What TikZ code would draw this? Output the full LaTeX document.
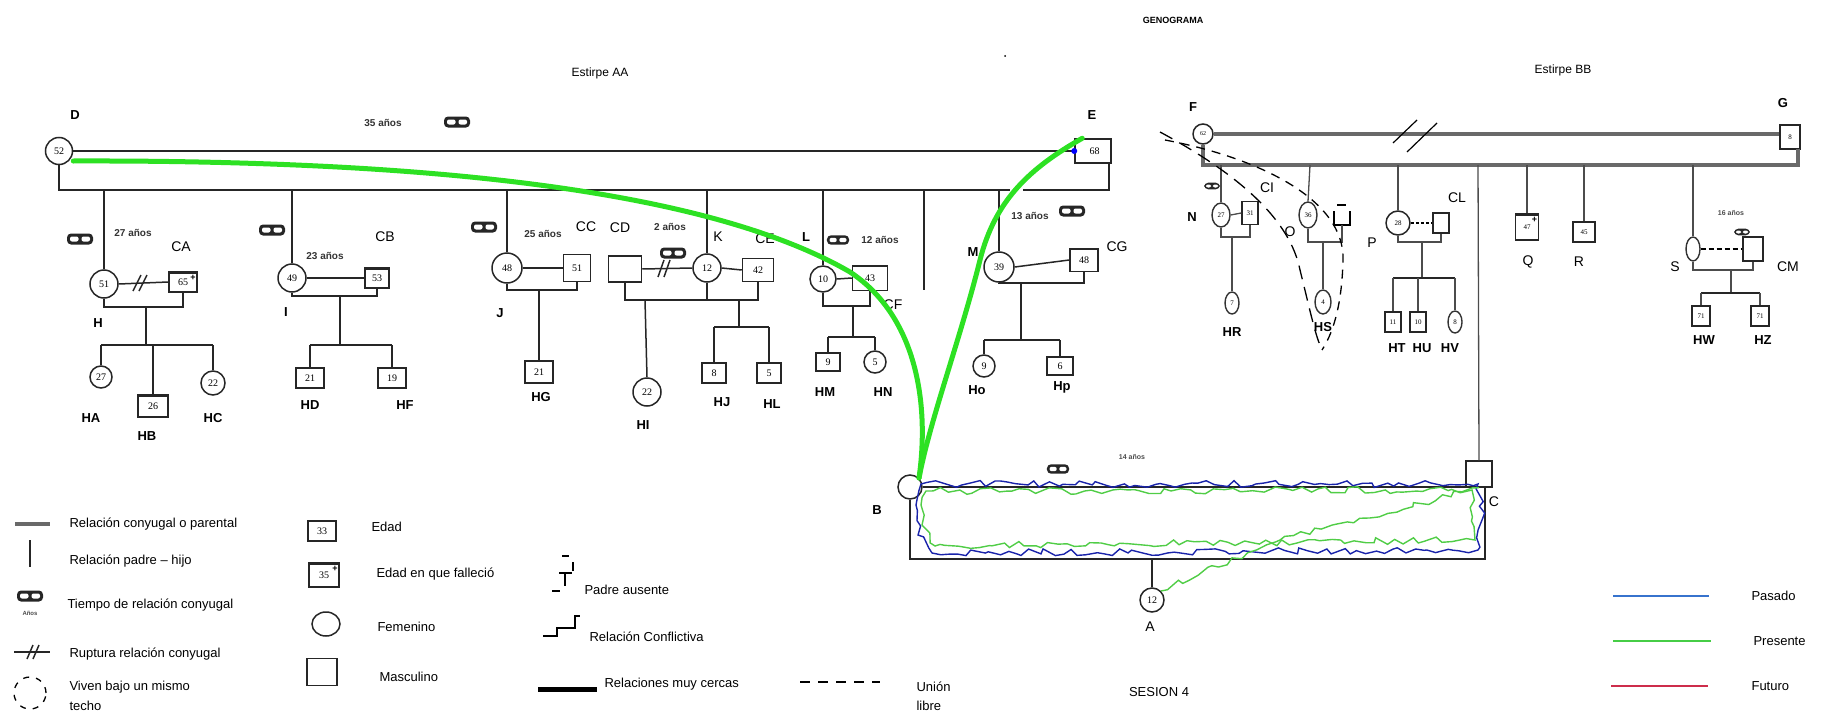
\documentclass[tikz,border=0pt]{standalone}
\usepackage{fontspec}
\setmainfont{Liberation Sans}
\newfontfamily\numserif{Liberation Serif}
\usetikzlibrary{shapes.geometric,decorations.pathmorphing,calc}
\definecolor{ggreen}{RGB}{45,225,35}
\definecolor{zblue}{RGB}{25,35,170}
\definecolor{zgreen}{RGB}{80,205,70}
\definecolor{lblue}{RGB}{55,115,205}
\definecolor{lgreen}{RGB}{70,205,70}
\definecolor{lred}{RGB}{205,45,75}
\definecolor{lgray}{RGB}{105,105,105}
\begin{document}
\begin{tikzpicture}[x=1pt,y=-1pt,
  ln/.style={line width=1.5pt, draw=black!85},
  thn/.style={line width=1.3pt, draw=black!70},
  thk/.style={line width=3.4pt, draw=lgray},
  fem/.style={circle, draw=black!85, line width=1.5pt, fill=white, minimum size=26pt, inner sep=0pt, font=\numserif\fontsize{10}{10}\selectfont},
  femo/.style={ellipse, draw=black!80, line width=1.4pt, fill=white, minimum width=16pt, minimum height=24pt, inner sep=0pt, font=\numserif\fontsize{7}{7}\selectfont},
  masc/.style={rectangle, draw=black!85, line width=1.5pt, fill=white, minimum width=28pt, minimum height=22pt, inner sep=0pt, font=\numserif\fontsize{10}{10}\selectfont},
  topbar/.style={masc, path picture={\draw[line width=3.5pt,black!85] (path picture bounding box.north west) -- (path picture bounding box.north east);}},
  dead/.style={masc, path picture={\draw[line width=3.5pt,black!85] (path picture bounding box.north west) -- (path picture bounding box.north east); \node[font=\bfseries\fontsize{9}{9}\selectfont, inner sep=0pt] at ($(path picture bounding box.north east)+(-4,6)$) {+};}},
  lbl/.style={font=\fontsize{14}{14}\selectfont},
  blbl/.style={font=\bfseries\fontsize{13}{13}\selectfont},
  yrs/.style={font=\bfseries\fontsize{10}{10}\selectfont, text=black!80},
  tyrs/.style={font=\bfseries\fontsize{7}{7}\selectfont, text=black!70},
  legt/.style={anchor=west, font=\fontsize{13}{13}\selectfont},
  zig/.style={line width=1.4pt, decorate, decoration={random steps, segment length=8pt, amplitude=3.5pt}},
  ringicon/.pic={
    \fill[black!85, rounded corners=4pt] (-13,-5.5) rectangle (13,5.5);
    \fill[white, rounded corners=2pt] (-10,-2.5) rectangle (-1.5,2.5);
    \fill[white, rounded corners=2pt] (1.5,-2.5) rectangle (10,2.5);
  }
]
\useasboundingbox (0,0) rectangle (1827,717);

% titles
\node[font=\bfseries\fontsize{9}{9}\selectfont] (title) at (1173,20) {GENOGRAMA};
\fill (1005,56) circle (1pt);
\node[font=\fontsize{12}{12}\selectfont] (eaa) at (600,73) {Estirpe AA};
\node[font=\fontsize{12}{12}\selectfont] (ebb) at (1563,70) {Estirpe BB};

% ---------- Estirpe AA ----------
\node[fem, minimum size=27pt] (D) at (59,151) {52};
\node[blbl] (lD) at (75,115) {D};
\node[masc, minimum width=36pt, minimum height=24pt] (E) at (1093,151) {\,\,68};
\node[blbl] (lE) at (1092,115) {E};
\draw[ln] (D.east) -- (E.west);
\draw[ln] (D.south) -- (59,190) -- (1010,190);
\draw[ln] (1023,190) -| ($(E.south east)+(-3,0)$);
\pic at (457,122) {ringicon};
\node[yrs] (y35) at (383,123) {35 años};

% H
\node[fem, minimum size=28pt] (H) at (104,284) {51};
\node[dead, minimum width=28pt, minimum height=20pt] (CA) at (183,282) {65};
\draw[ln] (104,190) -- (H.north);
\draw[ln] (H.east) -- (CA.west);
\draw[ln] (133,291) -- (141,275) (139,291) -- (147,275);
\draw[ln] (H.south) |- (183,307) -- (CA.south);
\draw[ln] (146,307) -- (146,345);
\draw[ln] (101,345) -- (213,345);
\node[fem, minimum size=22pt] (HA) at (101,377) {27};
\node[topbar, minimum width=30pt, minimum height=22pt] (HB) at (153,406) {26};
\node[fem, minimum size=24pt] (HC) at (213,383) {22};
\draw[ln] (101,345) -- (HA.north) (153,345) -- (HB.north) (213,345) -- (HC.north);
\node[blbl] (lHA) at (91,418) {HA};
\node[blbl] (lHB) at (147,436) {HB};
\node[blbl] (lHC) at (213,418) {HC};
\node[lbl] (lCA) at (181,247) {CA};
\node[blbl] (lH) at (98,323) {H};
\pic at (80,239) {ringicon};
\node[yrs] (y27) at (133,233) {27 años};

% I
\node[fem, minimum size=28pt] (I) at (292,278) {49};
\node[topbar, minimum width=24pt, minimum height=20pt] (CB) at (377,278) {53};
\draw[ln] (292,190) -- (I.north);
\draw[ln] (I.east) -- (CB.west);
\draw[ln] (I.south) |- (377,296) -- (CB.south);
\draw[ln] (340,296) -- (340,345);
\draw[ln] (310,345) -- (392,345);
\node[masc, minimum width=28pt, minimum height=20pt] (HD) at (310,378) {21};
\node[masc, minimum width=28pt, minimum height=20pt] (HF) at (392,378) {19};
\draw[ln] (310,345) -- (HD.north) (392,345) -- (HF.north);
\node[blbl] (lI) at (286,312) {I};
\node[lbl] (lCB) at (385,237) {CB};
\node[blbl] (lHD) at (310,405) {HD};
\node[blbl] (lHF) at (405,405) {HF};
\node[yrs] (y23) at (325,256) {23 años};
\pic at (272,230) {ringicon};

% J
\node[fem, minimum size=30pt] (J) at (507,268) {48};
\node[masc, minimum width=27pt, minimum height=27pt] (CC) at (577,268) {51};
\draw[ln] (507,190) -- (J.north);
\draw[ln] (J.east) -- (CC.west);
\draw[ln] (J.south) |- (577,290) -- (CC.south);
\node[masc, minimum width=28pt, minimum height=22pt] (HG) at (539,372) {21};
\draw[ln] (539,290) -- (HG.north);
\node[blbl] (lJ) at (500,313) {J};
\node[lbl] (lCC) at (586,227) {CC};
\node[blbl] (lHG) at (541,397) {HG};
\node[yrs] (y25) at (543,234) {25 años};
\pic at (484,227) {ringicon};

% CD K CE
\node[masc, minimum width=33pt, minimum height=26pt] (CD) at (625,269) {};
\node[fem, minimum size=28pt] (K) at (707,268) {12};
\node[masc, minimum width=31pt, minimum height=23pt] (CE) at (758,270) {42};
\draw[ln] (707,190) -- (K.north);
\draw[ln] (CD.east) -- (K.west);
\draw[ln] (658,277) -- (664,260) (664,277) -- (670,260);
\draw[ln] (K.east) -- (CE.west);
\draw[ln] (CD.south) |- (758,300) -- (CE.south);
\draw[ln] (K.south) -- (707,300);
\node[fem, minimum size=28pt] (HI) at (647,392) {22};
\draw[ln] (645,300) -- (HI.north);
\draw[ln] (739,300) -- (739,327);
\draw[ln] (714,327) -- (769,327);
\node[masc, minimum width=24pt, minimum height=20pt] (HJ) at (714,373) {8};
\node[masc, minimum width=24pt, minimum height=20pt] (HL) at (769,373) {5};
\draw[ln] (714,327) -- (HJ.north) (769,327) -- (HL.north);
\node[lbl] (lCD) at (620,228) {CD};
\node[yrs] (y2) at (670,227) {2 años};
\pic at (673,253) {ringicon};
\node[lbl] (lK) at (718,237) {K};
\node[lbl] (lCE) at (765,239) {CE};
\node[blbl] (lHI) at (643,425) {HI};
\node[blbl] (lHJ) at (722,402) {HJ};
\node[blbl] (lHL) at (772,404) {HL};

% L
\node[fem, minimum size=26pt] (L) at (823,279) {10};
\node[topbar, minimum width=35pt, minimum height=25pt] (CF) at (870,278) {43};
\draw[ln] (823,190) -- (L.north);
\draw[ln] (L.east) -- (CF.west);
\draw[ln] (L.south) |- (870,306) -- (CF.south);
\draw[ln] (853,306) -- (853,337);
\draw[ln] (828,337) -- (875,337);
\node[masc, minimum width=24pt, minimum height=18pt] (HM) at (828,362) {9};
\node[fem, minimum size=22pt] (HN) at (875,362) {5};
\draw[ln] (828,337) -- (HM.north) (875,337) -- (HN.north);
\node[blbl] (lL) at (806,237) {L};
\node[yrs] (y12) at (880,240) {12 años};
\pic[scale=0.85] at (838,240) {ringicon};
\node[lbl] (lCF) at (893,305) {CF};
\node[blbl] (lHM) at (825,392) {HM};
\node[blbl] (lHN) at (883,392) {HN};
\draw[ln] (924,190) -- (924,290);

% M
\node[fem, minimum size=30pt] (M) at (999,267) {39};
\node[topbar, minimum width=28pt, minimum height=23pt] (CG) at (1084,260) {48};
\draw[ln] (999,190) -- (M.north);
\draw[ln] (M.east) -- (CG.west);
\draw[ln] (M.south) |- (1084,283) -- (CG.south);
\draw[ln] (1021,283) -- (1021,340);
\draw[ln] (984,340) -- (1060,340);
\node[fem, minimum size=22pt] (Ho) at (984,366) {9};
\node[masc, minimum width=26pt, minimum height=18pt] (Hp) at (1060,366) {6};
\draw[ln] (984,340) -- (Ho.north) (1060,340) -- (Hp.north);
\node[blbl] (lM) at (973,252) {M};
\node[yrs] (y13) at (1030,216) {13 años};
\pic at (1072,211) {ringicon};
\node[lbl] (lCG) at (1117,247) {CG};
\node[blbl] (lHo) at (977,390) {Ho};
\node[blbl] (lHp) at (1062,387) {Hp};

% ---------- Bottom couple ----------
\node[fem, minimum size=24pt] (B) at (910,487) {};
\node[blbl] (lB) at (877,510) {B};
\node[masc, minimum width=26pt, minimum height=26pt] (C) at (1479,474) {};
\node[lbl] (lC) at (1494,502) {C};
\draw[ln] (B.east) -- (B.east -| C.west);
\draw[ln] (B.south) |- (1485,559) -- (1485,487);
\node[fem, minimum size=24pt] (A) at (1152,600) {12};
\draw[ln] (1152,559) -- (A.north);
\node[lbl] (lA) at (1150,627) {A};
\node[tyrs] (y14) at (1132,457) {14 años};
\pic[scale=0.85] at (1058,469) {ringicon};

\begin{scope}
\pgfmathsetseed{12}
\draw[zblue, zig] (921,484) -- (1478,484) -- (1482,520) -- (1478,550) -- (932,553) -- (918,535) -- (916,505) -- cycle;
\draw[zgreen, zig] (926,491) -- (1472,490) -- (1475,540) -- (935,546) -- (922,525) -- (921,505) -- cycle;
\draw[zgreen, zig] (C.south) -- (1280,540) -- (A.north east);
\end{scope}

% ---------- Estirpe BB ----------
\node[fem, minimum size=20pt, font=\numserif\fontsize{6}{6}\selectfont] (F) at (1203,134) {62};
\node[masc, minimum width=20pt, minimum height=24pt, font=\numserif\fontsize{7}{7}\selectfont] (G) at (1790,137) {8};
\node[blbl] (lF) at (1193,107) {F};
\node[blbl] (lG) at (1783,103) {G};
\draw[thk] (F.east) -- (F.east -| G.west);
\draw[line width=1.2pt] (1393,143) -- (1417,120) (1407,152) -- (1437,123);
\draw[thk] (F.south) |- (1798,165) -- (1798,149);

% N
\node[femo, minimum width=18pt] (N) at (1221,215) {27};
\node[masc, minimum width=16pt, minimum height=23pt, font=\numserif\fontsize{7}{7}\selectfont] (CI) at (1250,213) {31};
\draw[thn] (1221,165) -- (N.north);
\draw[thn] (N.east) -- (CI.west);
\draw[thn] (N.south) |- (1250,237) -- (CI.south);
\node[femo, minimum width=14pt, minimum height=22pt] (HR) at (1232,303) {7};
\draw[thn] (1232,237) -- (HR.north);
\node[blbl] (lN) at (1192,217) {N};
\node[lbl] (lCI) at (1267,188) {CI};
\node[blbl] (lHR) at (1232,332) {HR};
\pic[scale=0.6] at (1212,186) {ringicon};

% O
\node[femo, minimum width=18pt, minimum height=26pt] (O) at (1308,215) {36};
\coordinate (Of) at (1342,225);
\draw[line width=1.2pt] (1334,211) -- (1334,225) -- (1350,225) -- (1350,211);
\draw[line width=2pt] (1337,205) -- (1346,205);
\draw[thn] (1310,165) -- (O.north);
\draw[thn] (O.south) |- (1342,242) -- (Of);
\node[femo, minimum width=16pt, minimum height=24pt] (HS) at (1323,302) {4};
\draw[thn] (1323,242) -- (HS.north);
\node[lbl] (lO) at (1290,232) {O};
\node[blbl] (lHS) at (1323,327) {HS};

% P
\node[fem, minimum size=24pt, font=\numserif\fontsize{7}{7}\selectfont] (P) at (1398,223) {28};
\node[masc, minimum width=16pt, minimum height=20pt] (CL) at (1441,223) {};
\draw[thn] (1398,165) -- (P.north);
\draw[line width=1.2pt, dash pattern=on 3pt off 2pt] (P.east) -- (CL.west);
\draw[thn] (P.south) |- (1441,242) -- (CL.south);
\draw[thn] (1422,242) -- (1422,278);
\draw[ln] (1393,278) -- (1455,278);
\node[masc, minimum width=16pt, minimum height=20pt, font=\numserif\fontsize{7}{7}\selectfont] (HT) at (1393,322) {11};
\node[masc, minimum width=16pt, minimum height=20pt, font=\numserif\fontsize{7}{7}\selectfont] (HU) at (1418,322) {10};
\node[femo, minimum width=14pt, minimum height=22pt] (HV) at (1455,322) {8};
\draw[thn] (1393,278) -- (HT.north) (1418,278) -- (HU.north) (1455,278) -- (HV.north);
\node[lbl] (lP) at (1372,243) {P};
\node[lbl] (lCL) at (1457,198) {CL};
\node[blbl] (lHT) at (1397,348) {HT};
\node[blbl] (lHU) at (1422,348) {HU};
\node[blbl] (lHV) at (1450,348) {HV};

% C line, Q, R
\draw[thn] (1478,165) -- (C.north);
\node[dead, minimum width=23pt, minimum height=26pt, font=\numserif\fontsize{7}{7}\selectfont] (Q) at (1527,227) {47};
\draw[thn] (1527,165) -- (Q.north);
\node[lbl] (lQ) at (1528,262) {Q};
\node[masc, minimum width=22pt, minimum height=20pt, font=\numserif\fontsize{7}{7}\selectfont] (R) at (1584,232) {45};
\draw[thn] (1584,165) -- (R.north);
\node[lbl] (lR) at (1579,262) {R};

% S
\node[femo, minimum width=14pt, minimum height=24pt] (S) at (1693,249) {};
\node[masc, minimum width=20pt, minimum height=24pt] (CM) at (1753,249) {};
\draw[thn] (1693,165) -- (S.north);
\draw[line width=1.2pt, dash pattern=on 5pt off 3pt] (S.east) -- (CM.west);
\draw[thn] (S.south) |- (1753,270) -- (CM.south);
\draw[thn] (1731,270) -- (1731,293);
\draw[ln] (1701,293) -- (1760,293);
\node[masc, minimum width=18pt, minimum height=20pt, font=\numserif\fontsize{7}{7}\selectfont] (HW) at (1701,316) {71};
\node[masc, minimum width=18pt, minimum height=20pt, font=\numserif\fontsize{7}{7}\selectfont] (HZ) at (1760,316) {71};
\draw[thn] (1701,293) -- (HW.north) (1760,293) -- (HZ.north);
\node[lbl] (lS) at (1675,267) {S};
\node[lbl] (lCM) at (1788,267) {CM};
\node[blbl] (lHW) at (1704,340) {HW};
\node[blbl] (lHZ) at (1763,340) {HZ};
\node[tyrs] (y16) at (1731,213) {16 años};
\pic[scale=0.6] at (1742,232) {ringicon};

% dashed household loop
\draw[line width=1.3pt, dash pattern=on 14pt off 8pt] (1160,132) .. controls (1240,175) and (1290,220) .. (1300,270) .. controls (1310,310) and (1315,335) .. (1322,350);
\draw[line width=1.3pt, dash pattern=on 9pt off 7pt] (1165,140) .. controls (1260,158) and (1345,200) .. (1343,260) .. controls (1342,300) and (1335,330) .. (1322,350);

% green close-relationship curves
\draw[ggreen, line width=5pt, line cap=round] ($(D.east)+(0,10)$) .. controls (400,160) and (700,185) .. (850,272) .. controls (915,315) and (930,400) .. (B.north east);
\draw[ggreen, line width=5pt, line cap=round] ($(E.north west)+(8,0)$) .. controls (1030,168) and (995,200) .. (980,260) .. controls (960,340) and (930,420) .. (B.north east);
\fill[blue] (E.west) circle (3pt);

% ---------- Legend ----------
\draw[thk] (15,524) -- (50,524);
\node[legt] (t1) at (66,524) {Relación conyugal o parental};
\draw[ln] (30,540) -- (30,567);
\node[legt] (t2) at (66,561) {Relación padre – hijo};
\pic at (30,596) {ringicon};
\node[font=\bfseries\fontsize{6}{6}\selectfont, text=black!70] (anos) at (30,613) {Años};
\node[legt] (t3) at (64,605) {Tiempo de relación conyugal};
\draw[ln] (14,652) -- (50,652);
\draw[ln] (27,659) -- (33,645) (33,659) -- (39,645);
\node[legt] (t4) at (66,654) {Ruptura relación conyugal};
\draw[line width=1.3pt, dash pattern=on 6pt off 7pt] (30,693) circle (16pt);
\node[legt] (t5) at (66,687) {Viven bajo un mismo};
\node[legt] (t5b) at (66,706) {techo};

\node[masc, minimum width=28pt, minimum height=20pt] (k33) at (322,531) {33};
\node[legt] (t6) at (368,527) {Edad};
\node[dead, minimum width=30pt, minimum height=24pt] (k35) at (324,575) {35};
\node[legt] (t7) at (373,574) {Edad en que falleció};
\node[ellipse, draw=black!85, line width=1.5pt, minimum width=28pt, minimum height=24pt] (kf) at (326,624) {};
\node[legt] (t8) at (374,627) {Femenino};
\node[masc, minimum width=30pt, minimum height=27pt] (km) at (322,672) {};
\node[legt] (t9) at (376,677) {Masculino};

\draw[line width=2pt] (562,556) -- (569,556);
\draw[line width=1.2pt] (573,562) -- (573,571);
\draw[line width=1.5pt] (559,573) -- (572,573) (565,573) -- (565,586);
\draw[line width=2pt] (552,591) -- (560,591);
\node[legt] (t10) at (581,590) {Padre ausente};

\draw[line width=1.3pt] (543,636) -- (557,636) -- (557,628) -- (575,628) -- (575,616) -- (580,616);
\node[legt] (t11) at (586,637) {Relación Conflictiva};

\draw[line width=5pt] (538,689) -- (597,689);
\node[legt] (t12) at (601,684) {Relaciones muy cercas};
\draw[line width=1.3pt, dash pattern=on 10pt off 8pt] (800,682) -- (880,682);
\node[legt] (t13) at (913,687) {Unión};
\node[legt] (t14) at (913,706) {libre};

\node[font=\fontsize{13}{13}\selectfont] (ses) at (1159,692) {SESION 4};

\draw[lblue, line width=1.6pt] (1613,596) -- (1709,596);
\node[legt] (t15) at (1748,596) {Pasado};
\draw[lgreen, line width=1.6pt] (1613,641) -- (1711,641);
\node[legt] (t16) at (1750,641) {Presente};
\draw[lred, line width=1.6pt] (1611,686) -- (1708,686);
\node[legt] (t17) at (1748,686) {Futuro};
\end{tikzpicture}
\end{document}
